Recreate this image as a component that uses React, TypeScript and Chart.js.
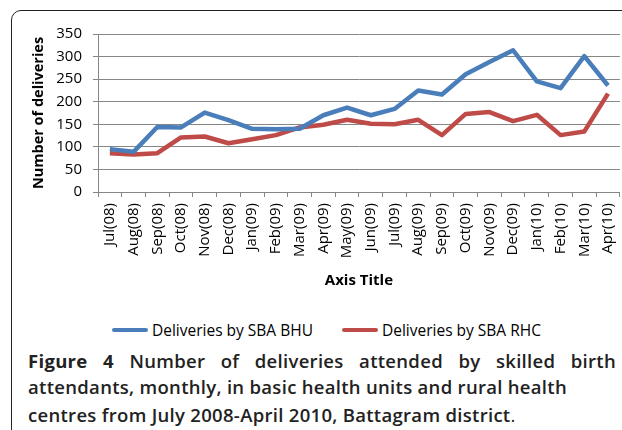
import React, { useEffect, useRef } from "react";
import { Chart, registerables } from "chart.js";
Chart.register(...registerables);

const months = [
  "Jul(08)", "Aug(08)", "Sep(08)", "Oct(08)", "Nov(08)", "Dec(08)",
  "Jan(09)", "Feb(09)", "Mar(09)", "Apr(09)", "May(09)", "Jun(09)",
  "Jul(09)", "Aug(09)", "Sep(09)", "Oct(09)", "Nov(09)", "Dec(09)",
  "Jan(10)", "Feb(10)", "Mar(10)", "Apr(10)",
];
const bhu = [95, 89, 144, 143, 176, 159, 140, 139, 140, 170, 187, 170, 184, 225, 216, 261, 288, 314, 245, 230, 301, 236];
const rhc = [86, 83, 86, 121, 123, 108, 117, 126, 143, 149, 160, 151, 150, 160, 126, 173, 177, 157, 171, 126, 134, 218];
const seriesNames = ["Deliveries by SBA BHU", "Deliveries by SBA RHC"];
const yMax = 350;
const yStep = 50;

const BLUE = "#4A7EBB";
const RED = "#BE4B48";
const GRID = "#868686";
const FONT = "'Open Sans', 'DejaVu Sans', sans-serif";

export default function App() {
  const ref = useRef<HTMLCanvasElement>(null);
  useEffect(() => {
    Chart.defaults.font.family = FONT;
    const chart = new Chart(ref.current!, {
      type: "line",
      data: {
        labels: months,
        datasets: [
          { label: seriesNames[0], data: bhu, borderColor: BLUE, backgroundColor: BLUE, borderWidth: 4.5, pointRadius: 0, tension: 0, fill: false, borderJoinStyle: "round" },
          { label: seriesNames[1], data: rhc, borderColor: RED, backgroundColor: RED, borderWidth: 4.5, pointRadius: 0, tension: 0, fill: false, borderJoinStyle: "round" },
        ],
      },
      options: {
        responsive: false,
        maintainAspectRatio: false,
        animation: false,
        layout: { padding: { left: 30, top: 34, right: 0, bottom: 0 } },
        plugins: { legend: { display: false }, tooltip: { enabled: false } },
        scales: {
          x: {
            offset: true,
            grid: { display: true, drawOnChartArea: false, offset: true, tickLength: 5, color: GRID },
            border: { color: GRID, width: 1 },
            ticks: { minRotation: 90, maxRotation: 90, autoSkip: false, padding: 6, color: "#000", font: { size: 15 } },
            title: { display: true, text: "Axis Title", color: "#000", font: { size: 15, weight: "bold" }, padding: { top: 0, bottom: 10 } },
            afterFit: (s: any) => { s.height = 108; },
          },
          y: {
            min: 0,
            max: yMax,
            ticks: { stepSize: yStep, padding: 11, color: "#000", font: { size: 15 } },
            grid: { color: GRID, tickLength: 5 },
            border: { color: GRID, width: 1 },
            title: { display: true, text: "Number of deliveries", color: "#000", font: { size: 14.5, weight: "bold" }, padding: { top: 0, bottom: 0 } },
            afterFit: (s: any) => { s.width = 68; },
          },
        },
      },
    });
    return () => chart.destroy();
  }, []);

  const legendText: React.CSSProperties = { position: "absolute", top: 319, fontFamily: FONT, fontSize: 15.5, color: "#000", whiteSpace: "nowrap", lineHeight: "22px" };
  const legendLine = (left: number, color: string): React.CSSProperties => ({ position: "absolute", left, top: 328, width: 36, height: 4, background: color, borderRadius: 2 });
  const cap: React.CSSProperties = { position: "absolute", left: 28, width: 588, fontFamily: FONT, fontSize: 18.5, letterSpacing: "0.3px", fontWeight: 600, color: "#222", whiteSpace: "nowrap", lineHeight: "20px" };

  return (
    <div style={{ position: "fixed", left: 0, top: 0, width: 622, height: 430, overflow: "hidden", background: "#fff" }}>
      <div style={{ position: "absolute", left: 11, top: 10, width: 700, height: 600, border: "1.5px solid #222", borderRadius: 10, boxSizing: "border-box" }} />
      <canvas ref={ref} width={632} height={300} style={{ position: "absolute", left: 0, top: 0, display: "block" }} />
      <div style={legendLine(112, BLUE)} />
      <div style={{ ...legendText, left: 152 }}>{seriesNames[0]}</div>
      <div style={legendLine(342, RED)} />
      <div style={{ ...legendText, left: 382 }}>{seriesNames[1]}</div>
      <div style={{ ...cap, top: 351, textAlign: "justify", textAlignLast: "justify", whiteSpace: "normal" }}>
        <span style={{ fontWeight: 700 }}>Figure 4</span> Number of deliveries attended by skilled birth
      </div>
      <div style={{ ...cap, top: 377 }}>attendants, monthly, in basic health units and rural health</div>
      <div style={{ ...cap, top: 405 }}>centres from July 2008-April 2010, Battagram district<span style={{ fontWeight: 400 }}>.</span></div>
    </div>
  );
}
